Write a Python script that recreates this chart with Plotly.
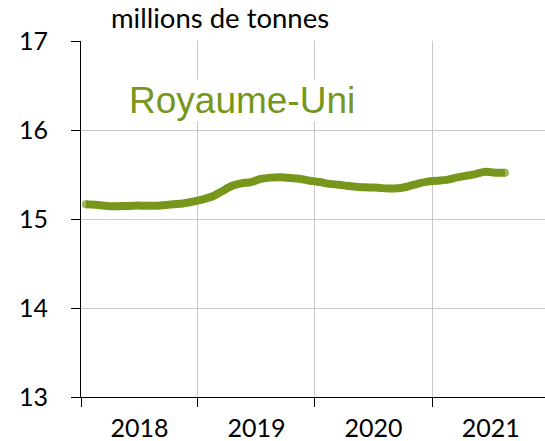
import pandas as pd
import plotly.graph_objects as go

# Monthly values (millions de tonnes), Jan 2018 – Aug 2021
months = [d.strftime("%Y-%m-%d") for d in pd.date_range("2018-01-01", periods=44, freq="MS") + pd.Timedelta(days=15)]
values = [
    15.165, 15.16, 15.15, 15.143, 15.145, 15.15, 15.15, 15.148, 15.155, 15.165, 15.175, 15.195,
    15.22, 15.255, 15.31, 15.37, 15.40, 15.415, 15.45, 15.465, 15.47, 15.46, 15.45, 15.43,
    15.415, 15.395, 15.385, 15.37, 15.36, 15.355, 15.35, 15.342, 15.345, 15.365, 15.395, 15.42,
    15.43, 15.44, 15.465, 15.485, 15.505, 15.53, 15.52, 15.52,
]
y_ticks = [13, 14, 15, 16, 17]
unit_label = "millions de tonnes"
series_label = "Royaume-Uni"

green = "#76961C"
n = len(values)
cap_sizes = [8 if i in (0, n - 1) else 0 for i in range(n)]

fig = go.Figure()
fig.add_trace(go.Scatter(
    x=months, y=values, mode="lines+markers",
    line=dict(color=green, width=8, shape="spline", smoothing=0.8),
    marker=dict(color=green, size=cap_sizes, line=dict(width=0)),
    hoverinfo="x+y", showlegend=False,
))

tick_font = dict(family="Lato", size=25, color="#000000")

fig.update_layout(
    width=545, height=441,
    margin=dict(l=81, r=0, t=41, b=44, autoexpand=False),
    paper_bgcolor="white", plot_bgcolor="white",
    xaxis=dict(
        type="date",
        range=["2018-01-01", "2021-12-19"],
        tick0="2018-01-01", dtick="M12",
        ticklabelmode="period",
        tickformat="%Y",
        ticks="outside", ticklen=9, tickcolor="#000000", tickwidth=1,
        showline=True, linecolor="#000000", linewidth=1,
        showgrid=True, gridcolor="#c8c8c8", gridwidth=1,
        tickfont=tick_font,
        automargin=False,
        zeroline=False,
        fixedrange=True,
    ),
    yaxis=dict(
        range=[13, 17], tickvals=y_ticks,
        ticks="outside", ticklen=9, tickcolor="#000000", tickwidth=1,
        showline=True, linecolor="#000000", linewidth=1,
        showgrid=True, gridcolor="#c8c8c8", gridwidth=1,
        tickfont=tick_font,
        ticklabelstandoff=18,
        automargin=False,
        zeroline=False,
        fixedrange=True,
    ),
    annotations=[
        dict(text=unit_label, xref="paper", yref="paper",
             x=(109 - 81) / 464, y=(397 - 18) / 356,
             xanchor="left", yanchor="middle", showarrow=False,
             font=dict(family="Lato", size=27.5, color="#000000")),
        dict(text=series_label, xref="paper", yref="paper",
             x=(242 - 81) / 464, y=(397 - 100) / 356,
             xanchor="center", yanchor="middle", showarrow=False,
             bgcolor="white", borderpad=0,
             font=dict(family="Liberation Sans", size=37, color=green)),
    ],
)

# remove the browser's default 8px body margin so the figure fills the window
fig.write_html("out.html", config={"displayModeBar": False},
               post_script="document.body.style.margin='0';")
